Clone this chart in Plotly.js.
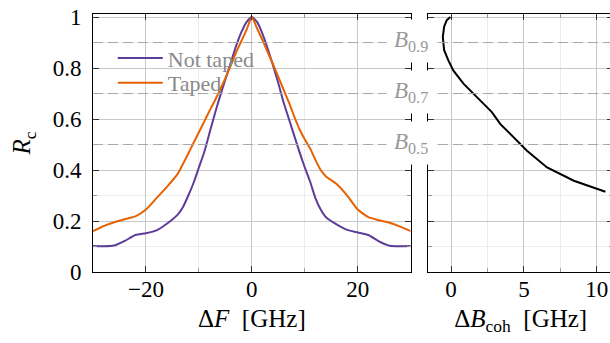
<!DOCTYPE html>
<html>
<head>
<meta charset="utf-8">
<script src="https://cdn.plot.ly/plotly-3.0.1.min.js"></script>
<style>
html,body{margin:0;padding:0;overflow:hidden;background:#fff;}
#chart{width:613px;height:343px;}
</style>
</head>
<body>
<div id="chart"></div>
<script>
// Left panel: correlation R_c vs frequency offset
var freqOffset = [-30,-28,-26,-24,-22,-20,-18,-16,-14,-13,-12,-11,-10,-9,-8,-7,-6,-5,-4,-3,-2,-1,0,1,2,3,4,5,6,7,8,9,10,11,12,13,14,16,18,20,22,24,26,28,30];
var notTaped = [0.102,0.101,0.104,0.122,0.145,0.152,0.163,0.19,0.225,0.255,0.30,0.35,0.41,0.47,0.545,0.62,0.69,0.755,0.82,0.885,0.94,0.98,1.0,0.98,0.935,0.875,0.81,0.74,0.665,0.60,0.535,0.47,0.41,0.355,0.29,0.245,0.215,0.187,0.165,0.155,0.145,0.12,0.103,0.101,0.102];
var taped = [0.16,0.18,0.195,0.207,0.218,0.245,0.29,0.335,0.385,0.424,0.465,0.507,0.548,0.59,0.632,0.672,0.715,0.76,0.81,0.86,0.905,0.95,1.0,0.955,0.91,0.862,0.815,0.765,0.715,0.665,0.61,0.56,0.52,0.485,0.44,0.40,0.375,0.345,0.30,0.245,0.215,0.203,0.193,0.178,0.16];

// Right panel: coherence bandwidth vs R
var cohBandwidth = [-0.05,-0.3,-0.48,-0.57,-0.48,-0.19,0.16,0.85,1.77,2.8,3.37,4.29,5.21,6.59,8.43,10.6];
var cohR = [1.0,0.988,0.962,0.922,0.87,0.83,0.79,0.739,0.686,0.627,0.581,0.529,0.476,0.41,0.358,0.315];

// Threshold levels
var levels = [0.9, 0.7, 0.5];
var levelLabels = ['<i>B</i><sub>0.9</sub>', '<i>B</i><sub>0.7</sub>', '<i>B</i><sub>0.5</sub>'];

var serif = 'Liberation Serif';

var traces = [
  {x: freqOffset, y: notTaped, type: 'scatter', mode: 'lines', name: 'Not taped', legend: 'legend',
   line: {color: '#5e3c99', width: 2, shape: 'spline', smoothing: 0.5}, xaxis: 'x', yaxis: 'y'},
  {x: freqOffset, y: taped, type: 'scatter', mode: 'lines', name: 'Taped', legend: 'legend2',
   line: {color: '#e66101', width: 2, shape: 'spline', smoothing: 0.5}, xaxis: 'x', yaxis: 'y'},
  {x: cohBandwidth, y: cohR, type: 'scatter', mode: 'lines', name: 'coh', showlegend: false,
   line: {color: '#000', width: 2}, xaxis: 'x2', yaxis: 'y2'}
];

function axisBase() {
  return {
    showline: true, linecolor: '#000', linewidth: 1, mirror: 'ticks',
    ticks: 'inside', ticklen: 6, tickcolor: '#333', tickwidth: 1,
    gridcolor: '#c8c8c8', gridwidth: 1, zeroline: false,
    tickfont: {family: serif, size: 23, color: '#000'},
    minor: {showgrid: true, gridcolor: '#ececec', ticks: 'inside', ticklen: 4, tickcolor: '#999'}
  };
}

var xa = axisBase();
Object.assign(xa, {domain: [0, 0.611], range: [-30, 30], dtick: 20, tick0: 0, ticklabelstandoff: -4,
  title: {text: 'Δ<i>F</i>  [GHz]', font: {family: serif, size: 25, color: '#000'}, standoff: 8}});
xa.minor.dtick = 10;

var ya = axisBase();
Object.assign(ya, {domain: [0, 1], range: [0, 1.012], dtick: 0.2, tick0: 0, ticklabelstandoff: 6,
  title: {text: '<i>R</i><sub>c</sub>', font: {family: serif, size: 25, color: '#000'}, standoff: 14}});
ya.minor.dtick = 0.1;

var xa2 = axisBase();
Object.assign(xa2, {domain: [0.645, 1], range: [-1.56, 11.12], dtick: 5, tick0: 0, anchor: 'y2', ticklabelstandoff: -4,
  title: {text: 'Δ<i>B</i><sub>coh</sub>  [GHz]', font: {family: serif, size: 25, color: '#000'}, standoff: 8}});
xa2.minor.dtick = 2.5;

var ya2 = axisBase();
Object.assign(ya2, {domain: [0, 1], range: [0, 1.012], dtick: 0.2, tick0: 0, anchor: 'x2', showticklabels: false});
ya2.minor.dtick = 0.1;

var shapes = levels.map(function (v) {
  return {type: 'line', xref: 'paper', yref: 'y', x0: 0, x1: 1, y0: v, y1: v, layer: 'above',
          line: {color: '#a8a8a8', width: 1, dash: '10px,5px'}};
});
var annotations = levels.map(function (v, i) {
  return {xref: 'paper', yref: 'y', x: 0.6115, y: v, yshift: 2, text: levelLabels[i], showarrow: false,
          xanchor: 'center', yanchor: 'middle', bgcolor: '#fff', borderpad: 7,
          font: {family: serif, size: 23, color: '#999'}};
});

function legendAt(yPaper) {
  return {x: 0.038, y: yPaper, xanchor: 'left', yanchor: 'middle', bgcolor: 'rgba(0,0,0,0)', borderwidth: 0,
          itemwidth: 45, tracegroupgap: 0,
          font: {family: serif, size: 22, color: '#8a8a8a'}};
}

var layout = {
  width: 613, height: 343,
  margin: {l: 93, r: 0, t: 14, b: 71, pad: 0},
  paper_bgcolor: '#fff', plot_bgcolor: '#fff',
  showlegend: true,
  legend: legendAt(0.829),
  legend2: legendAt(0.733),
  xaxis: xa, yaxis: ya, xaxis2: xa2, yaxis2: ya2,
  shapes: shapes, annotations: annotations
};

Plotly.newPlot('chart', traces, layout, {staticPlot: true, displayModeBar: false});
</script>
</body>
</html>
